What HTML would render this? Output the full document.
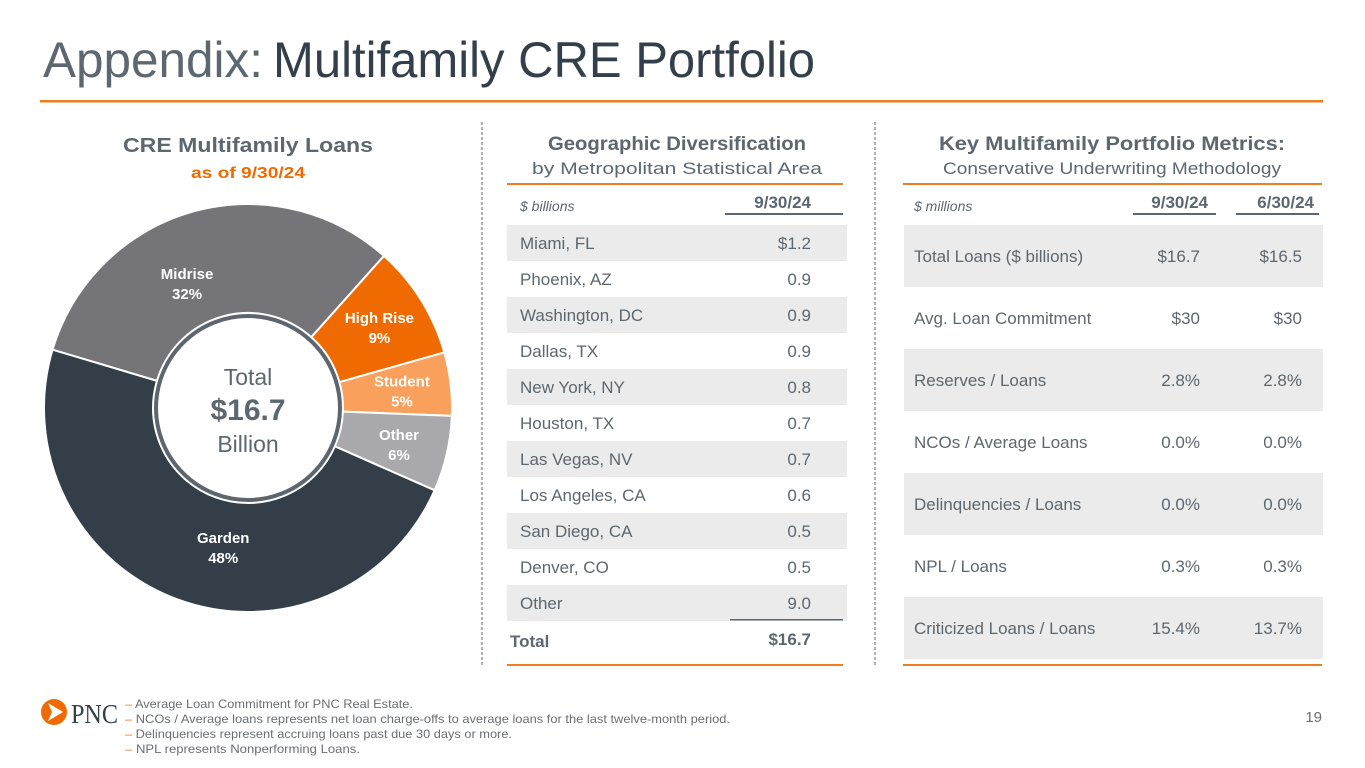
<!DOCTYPE html>
<html><head><meta charset="utf-8"><style>
html,body{margin:0;padding:0;background:#fff;width:1365px;height:768px;overflow:hidden}
svg text{font-family:"Liberation Sans",sans-serif}
</style></head><body>
<svg id="s" width="1365" height="768" viewBox="0 0 1365 768" xmlns="http://www.w3.org/2000/svg">
<g>
<text x="43" y="77" font-size="50" fill="#5d6770" textLength="220" lengthAdjust="spacingAndGlyphs">Appendix:</text>
<text x="273" y="77" font-size="50" fill="#333f4a" textLength="542" lengthAdjust="spacingAndGlyphs">Multifamily CRE Portfolio</text>
</g>
<rect x="40" y="100" width="1283" height="2.5" fill="#ef7d22"/>

<line x1="482" y1="122" x2="482" y2="665" stroke="#666" stroke-dasharray="3,2"/>
<line x1="875" y1="122" x2="875" y2="665" stroke="#666" stroke-dasharray="3,2"/>

<text x="248" y="152" font-size="20" font-weight="bold" fill="#5d6770" text-anchor="middle" textLength="250" lengthAdjust="spacingAndGlyphs">CRE Multifamily Loans</text>
<text x="248" y="178" font-size="16" font-weight="bold" fill="#ef6a00" text-anchor="middle" textLength="114" lengthAdjust="spacingAndGlyphs">as of 9/30/24</text>
<g id="donut"></g>

<text x="677" y="150" font-size="19" font-weight="bold" fill="#5d6770" text-anchor="middle" textLength="258" lengthAdjust="spacingAndGlyphs">Geographic Diversification</text>
<text x="677" y="174" font-size="17" fill="#5d6770" text-anchor="middle" textLength="290" lengthAdjust="spacingAndGlyphs">by Metropolitan Statistical Area</text>
<g id="geo"></g>

<text x="1112" y="150" font-size="19" font-weight="bold" fill="#5d6770" text-anchor="middle" textLength="346" lengthAdjust="spacingAndGlyphs">Key Multifamily Portfolio Metrics:</text>
<text x="1112" y="174" font-size="17" fill="#5d6770" text-anchor="middle" textLength="338" lengthAdjust="spacingAndGlyphs">Conservative Underwriting Methodology</text>
<g id="met"></g>

<g>
<circle cx="54" cy="712" r="13" fill="#ef6a00"/>
<path d="M48 703 L63 712 L48 721 L52 712 Z" fill="#fff"/>
<text x="71" y="723" font-size="27" fill="#333f4a" textLength="47" lengthAdjust="spacingAndGlyphs" style="font-family:'Liberation Serif',serif">PNC</text>
</g>
<g font-size="12" fill="#6b6e72">
<text x="125" y="708" textLength="288" lengthAdjust="spacingAndGlyphs"><tspan fill="#ef7d22">–</tspan> Average Loan Commitment for PNC Real Estate.</text>
<text x="125" y="723" textLength="605" lengthAdjust="spacingAndGlyphs"><tspan fill="#ef7d22">–</tspan> NCOs / Average loans represents net loan charge-offs to average loans for the last twelve-month period.</text>
<text x="125" y="738" textLength="387" lengthAdjust="spacingAndGlyphs"><tspan fill="#ef7d22">–</tspan> Delinquencies represent accruing loans past due 30 days or more.</text>
<text x="125" y="753" textLength="235" lengthAdjust="spacingAndGlyphs"><tspan fill="#ef7d22">–</tspan> NPL represents Nonperforming Loans.</text>
</g>
<text x="1322" y="722" font-size="15" fill="#6b6e72" text-anchor="end">19</text>
</svg>
<script>
const sliceLabels=["Midrise","High Rise","Student","Other","Garden"];
const slicePcts=[32,9,5,6,48];
const sliceColors=["#747479","#ef6a00","#f9a05c","#a9a9ad","#333e48"];
const startAngle=-73.4;
const geoCities=["Miami, FL","Phoenix, AZ","Washington, DC","Dallas, TX","New York, NY","Houston, TX","Las Vegas, NV","Los Angeles, CA","San Diego, CA","Denver, CO","Other"];
const geoValues=["$1.2","0.9","0.9","0.9","0.8","0.7","0.7","0.6","0.5","0.5","9.0"];
const geoTotal="$16.7";
const metLabels=["Total Loans ($ billions)","Avg. Loan Commitment","Reserves / Loans","NCOs / Average Loans","Delinquencies / Loans","NPL / Loans","Criticized Loans / Loans"];
const metQ3=["$16.7","$30","2.8%","0.0%","0.0%","0.3%","15.4%"];
const metQ2=["$16.5","$30","2.8%","0.0%","0.0%","0.3%","13.7%"];

const NS="http://www.w3.org/2000/svg";
function mk(p,t,a,txt){const e=document.createElementNS(NS,t);for(const k in a)e.setAttribute(k,a[k]);if(txt!=null)e.textContent=txt;p.appendChild(e);return e;}
const d=document.getElementById('donut');
const cx=248,cy=408,R=204,r0=95;
function pt(a,r){const t=a*Math.PI/180;return [cx+r*Math.sin(t),cy-r*Math.cos(t)];}
const total=slicePcts.reduce((a,b)=>a+b,0);
let a=startAngle;
slicePcts.forEach((v,i)=>{
  const sw=v/total*360,a2=a+sw,lg=sw>180?1:0;
  const p1=pt(a,R),p2=pt(a2,R),p3=pt(a2,r0),p4=pt(a,r0);
  const e=mk(d,'path',{d:`M${p1[0]},${p1[1]} A${R},${R} 0 ${lg} 1 ${p2[0]},${p2[1]} L${p3[0]},${p3[1]} A${r0},${r0} 0 ${lg} 0 ${p4[0]},${p4[1]} Z`,fill:sliceColors[i],stroke:'#fff','stroke-width':2});
  
  
  const big=sw>100;
  const m=a+sw/2+(big?-10:0),lp=pt(m,big?140:155);
  const g=mk(d,'g',{fill:'#fff','font-weight':'bold','font-size':15,'text-anchor':'middle'});
  
  
  mk(g,'text',{x:lp[0],y:lp[1]-3},sliceLabels[i]);
  mk(g,'text',{x:lp[0],y:lp[1]+17},v+'%');
  a=a2;
});
const hole=mk(d,'circle',{cx:cx,cy:cy,r:92,fill:'#fff',stroke:'#5d6670','stroke-width':4});


const ct=mk(d,'g',{'text-anchor':'middle',fill:'#5d6770'});


mk(ct,'text',{x:cx,y:385,'font-size':23},'Total');
mk(ct,'text',{x:cx,y:420,'font-size':30,'font-weight':'bold'},geoTotal);
mk(ct,'text',{x:cx,y:452,'font-size':23},'Billion');

const g=document.getElementById('geo');
mk(g,'rect',{x:507,y:183,width:336,height:2,fill:'#ef7d22'});
mk(g,'text',{x:520,y:211,'font-size':14,'font-style':'italic',fill:'#5d6770'},'$ billions');
mk(g,'text',{x:811,y:208,'font-size':17,'font-weight':'bold','text-anchor':'end',fill:'#5d6770'},'9/30/24');
mk(g,'rect',{x:725,y:213,width:118,height:2,fill:'#5d6770'});
geoCities.forEach((c,i)=>{
  const y=225+i*36;
  if(i%2==0)mk(g,'rect',{x:507,y:y,width:340,height:36,fill:'#ebebeb'});
  const t=mk(g,'text',{x:520,y:y+24,'font-size':17,fill:'#5d6770'},c);
  
  
  const v=mk(g,'text',{x:811,y:y+24,'font-size':17,fill:'#5d6770','text-anchor':'end'},geoValues[i]);
  
  
});
mk(g,'rect',{x:730,y:619,width:113,height:1.5,fill:'#5d6770'});
mk(g,'text',{x:510,y:647,'font-size':17,'font-weight':'bold',fill:'#5d6770'},'Total');
mk(g,'text',{x:811,y:645,'font-size':17,'font-weight':'bold',fill:'#5d6770','text-anchor':'end'},geoTotal);
mk(g,'rect',{x:507,y:664,width:336,height:2,fill:'#ef7d22'});

const m=document.getElementById('met');
mk(m,'rect',{x:903,y:183,width:419,height:2,fill:'#ef7d22'});
mk(m,'text',{x:914,y:211,'font-size':14,'font-style':'italic',fill:'#5d6770'},'$ millions');
mk(m,'text',{x:1208,y:208,'font-size':17,'font-weight':'bold','text-anchor':'end',fill:'#5d6770'},'9/30/24');
mk(m,'text',{x:1314,y:208,'font-size':17,'font-weight':'bold','text-anchor':'end',fill:'#5d6770'},'6/30/24');
mk(m,'rect',{x:1133,y:213,width:83,height:2,fill:'#5d6770'});
mk(m,'rect',{x:1236,y:213,width:83,height:2,fill:'#5d6770'});
metLabels.forEach((l,i)=>{
  const y=225+i*62;
  if(i%2==0)mk(m,'rect',{x:904,y:y,width:419,height:62,fill:'#ebebeb'});
  const t=mk(m,'text',{x:914,y:y+37,'font-size':17,fill:'#5d6770'},l);
  
  
  const v1=mk(m,'text',{x:1200,y:y+37,'font-size':17,fill:'#5d6770','text-anchor':'end'},metQ3[i]);
  
  
  const v2=mk(m,'text',{x:1302,y:y+37,'font-size':17,fill:'#5d6770','text-anchor':'end'},metQ2[i]);
  
  
});
mk(m,'rect',{x:903,y:664,width:419,height:2,fill:'#ef7d22'});
</script>
</body></html>
